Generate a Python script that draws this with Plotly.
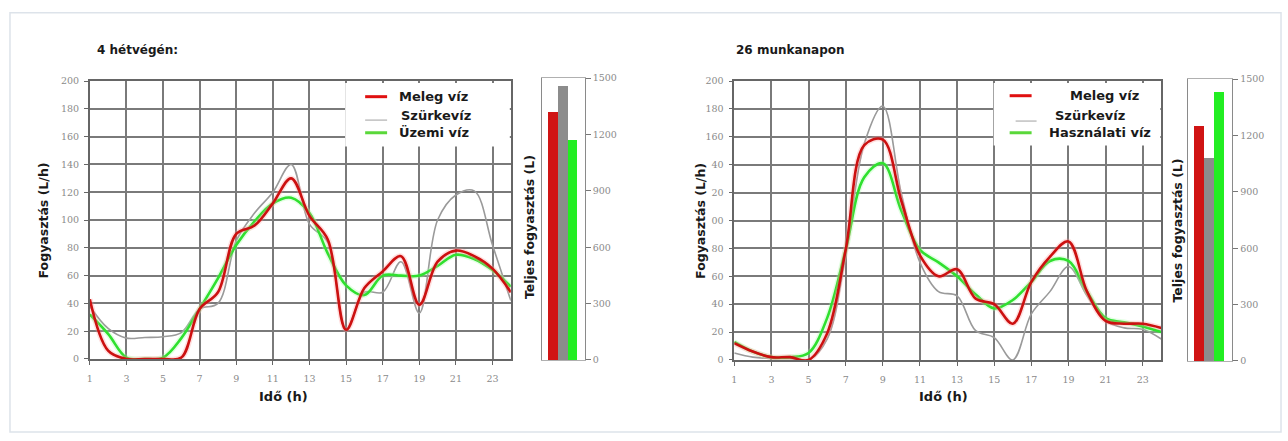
import plotly.graph_objects as go

W, H = 1288, 441

hours = list(range(1, 25))

# Weekend (4 days) hourly profiles, L/h
we_meleg = [43, 6, 0, 0, 0, 1, 36, 48, 90, 96, 112, 130, 103, 86, 21, 51, 63, 74, 39, 70, 78, 74, 65, 48]
we_szurke = [38, 22, 15, 15.5, 16, 19, 36, 40, 85, 105, 120, 140, 97, 84, 21, 48, 48, 70, 33, 100, 118, 121, 82, 42]
we_uzemi = [32, 18, 1, 0, 1, 15, 36, 58, 82, 99, 112, 116, 105, 76, 53, 46, 60, 60, 60, 67, 75, 72, 64, 52]

# Workday (26 days) hourly profiles, L/h
wd_meleg = [12, 6, 2, 2, 0, 19, 79, 154, 158, 114, 75, 60, 65, 44, 40, 26, 56, 74, 85, 49, 28, 26, 26, 23]
wd_szurke = [5, 2, 1, 1, 0, 15, 75, 155, 182, 119, 70, 49, 46, 21, 16, 0, 33, 49, 67, 46, 28, 23, 22, 15]
wd_hasznalati = [13, 6, 2, 2, 5, 30, 79, 131, 141, 107, 79, 70, 60, 47, 37, 43, 56, 71, 71, 49, 30, 27, 24, 20]

# Total consumption (L): hot water, grey water, service water
we_totals = [1320, 1460, 1170]
wd_totals = [1250, 1080, 1430]

x_ticks = list(range(1, 24, 2))
y_ticks = list(range(0, 201, 20))
y_ticktext_left = [str(v) for v in y_ticks]
y_ticktext_right = ["0", "20", "40", "60", "80", "00", "20", "40", "160", "180", "200"]
bar_ticks = [0, 300, 600, 900, 1200, 1500]

RED = "#cc1010"
GRAY = "#9a9a9a"
GREEN = "#2fe02f"
BAR_COLORS = ["#d01414", "#8c8c8c", "#22ee22"]

SANS = "DejaVu Sans"
SERIF = "DejaVu Serif"


def px(x):
    return x / W


def py(y):
    return 1 - y / H


fig = go.Figure()


def add_lines(xa, ya, series):
    for vals, color, width, halo in series:
        if halo:
            fig.add_trace(go.Scatter(
                x=hours, y=vals, mode="lines", xaxis=xa, yaxis=ya,
                line=dict(color=halo, width=width + 3, shape="spline", smoothing=1.0),
                hoverinfo="skip", showlegend=False))
        fig.add_trace(go.Scatter(
            x=hours, y=vals, mode="lines", xaxis=xa, yaxis=ya,
            line=dict(color=color, width=width, shape="spline", smoothing=1.0),
            showlegend=False))


add_lines("x", "y", [
    (we_szurke, GRAY, 1.6, None),
    (we_uzemi, GREEN, 2.6, "rgba(160,255,160,0.3)"),
    (we_meleg, RED, 2.6, "rgba(255,150,150,0.3)"),
])
add_lines("x3", "y3", [
    (wd_szurke, GRAY, 1.6, None),
    (wd_hasznalati, GREEN, 2.6, "rgba(160,255,160,0.3)"),
    (wd_meleg, RED, 2.6, "rgba(255,150,150,0.3)"),
])

for totals, xa, ya in [(we_totals, "x2", "y2"), (wd_totals, "x4", "y4")]:
    fig.add_trace(go.Bar(
        x=[0, 1, 2], y=totals, width=1, xaxis=xa, yaxis=ya,
        marker=dict(color=BAR_COLORS, line=dict(width=0)),
        showlegend=False))

tickfont = dict(family=SERIF, size=9.5, color="#8a8a8a")

line_x = dict(range=[1, 24], tickvals=x_ticks, showgrid=True, gridcolor="#7a7a7a",
              gridwidth=1.6, showline=True, linecolor="#666666", linewidth=1.5, mirror=True,
              ticks="outside", ticklen=4, tickcolor="#666666", tickfont=tickfont,
              ticklabelstandoff=6, zeroline=False, fixedrange=True)
line_y = dict(range=[0, 200], tickvals=y_ticks, showgrid=True, gridcolor="#7a7a7a",
              gridwidth=1.6, showline=True, linecolor="#666666", linewidth=1.5, mirror=True,
              ticks="outside", ticklen=4, tickcolor="#666666", tickfont=tickfont,
              ticklabelstandoff=3, zeroline=False, fixedrange=True)
bar_x = dict(range=[-1.15, 3.3], showticklabels=False, showgrid=False, zeroline=False,
             showline=True, linecolor="#b0b0b0", linewidth=1, mirror=True, ticks="")
bar_y = dict(range=[0, 1500], tickvals=bar_ticks, side="right", showgrid=False, zeroline=False,
             showline=True, linecolor="#8a8a8a", linewidth=1.2, mirror=True,
             ticks="outside", ticklen=5, tickcolor="#777777", tickfont=tickfont)

fig.update_layout(
    width=W, height=H, margin=dict(l=0, r=0, t=0, b=0),
    paper_bgcolor="white", plot_bgcolor="white", bargap=0,
    xaxis=dict(domain=[px(87), px(509)], anchor="y", **line_x),
    yaxis=dict(domain=[py(362), py(77)], anchor="x", ticktext=y_ticktext_left, **line_y),
    xaxis2=dict(domain=[px(540), px(583)], anchor="y2", **bar_x),
    yaxis2=dict(domain=[py(363), py(74)], anchor="x2", **bar_y),
    xaxis3=dict(domain=[px(733), px(1161)], anchor="y3", **line_x),
    yaxis3=dict(domain=[py(363), py(77)], anchor="x3", ticktext=y_ticktext_right, **line_y),
    xaxis4=dict(domain=[px(1188), px(1232)], anchor="y4", **bar_x),
    yaxis4=dict(domain=[py(364), py(75)], anchor="x4", **bar_y),
)

shapes = []
annotations = []

# outer card border
shapes.append(dict(type="rect", xref="paper", yref="paper", x0=px(7), x1=px(1281),
                   y0=py(437), y1=py(7), line=dict(color="#dde3ea", width=1.5),
                   fillcolor="rgba(0,0,0,0)", layer="below"))


def text(s, x, y, size=12, angle=0, xanchor="center", bg=None):
    a = dict(text=s, x=px(x), y=py(y), xref="paper", yref="paper", showarrow=False,
             xanchor=xanchor, yanchor="middle", textangle=angle,
             font=dict(family=SANS, size=size, color="#1a1a1a", weight="bold"))
    if bg:
        a["bgcolor"] = bg
    annotations.append(a)


# panel titles
text("4 hétvégén:", 92, 45, 12, xanchor="left")
text("26 munkanapon", 733, 45, 12, xanchor="left")

# axis titles
text("Fogyasztás (L/h)", 41, 220, 12.5, angle=-90)
text("Fogyasztás (L/h)", 699, 220, 12.5, angle=-90)
text("Idő (h)", 281, 401, 13)
text("Idő (h)", 943, 401, 13)
text("Teljes fogyasztás (L)", 528, 227, 12.5, angle=-90, bg="white")
text("Teljes fogyasztás (L)", 1177, 230, 12.5, angle=-90, bg="white")


def legend_box(x0, x1, y0, y1, items):
    shapes.append(dict(type="rect", xref="paper", yref="paper", x0=px(x0), x1=px(x1),
                       y0=py(y1), y1=py(y0), fillcolor="white", line=dict(width=0),
                       layer="above"))
    for (lx0, lx1, ly, color, lw, label, tx, ty) in items:
        shapes.append(dict(type="line", xref="paper", yref="paper", x0=px(lx0), x1=px(lx1),
                           y0=py(ly), y1=py(ly), line=dict(color=color, width=lw),
                           layer="above"))
        text(label, tx, ty, 13, xanchor="left")


legend_box(343, 508, 79, 144, [
    (363, 385, 93, "#e01010", 3, "Meleg víz", 395, 93),
    (363, 385, 117, "#a0a0a0", 1, "Szürkevíz", 397, 112),
    (363, 385, 130, "#5ad83a", 3, "Üzemi víz", 395, 130),
])
legend_box(993, 1160, 79, 143, [
    (1009, 1031, 92, "#e01010", 3, "Meleg víz", 1067, 92),
    (1015, 1036, 118, "#a0a0a0", 1, "Szürkevíz", 1052, 112),
    (1009, 1031, 130, "#5ad83a", 3, "Használati víz", 1046, 130),
])

fig.update_layout(shapes=shapes, annotations=annotations)

fig.write_html("out.html")
